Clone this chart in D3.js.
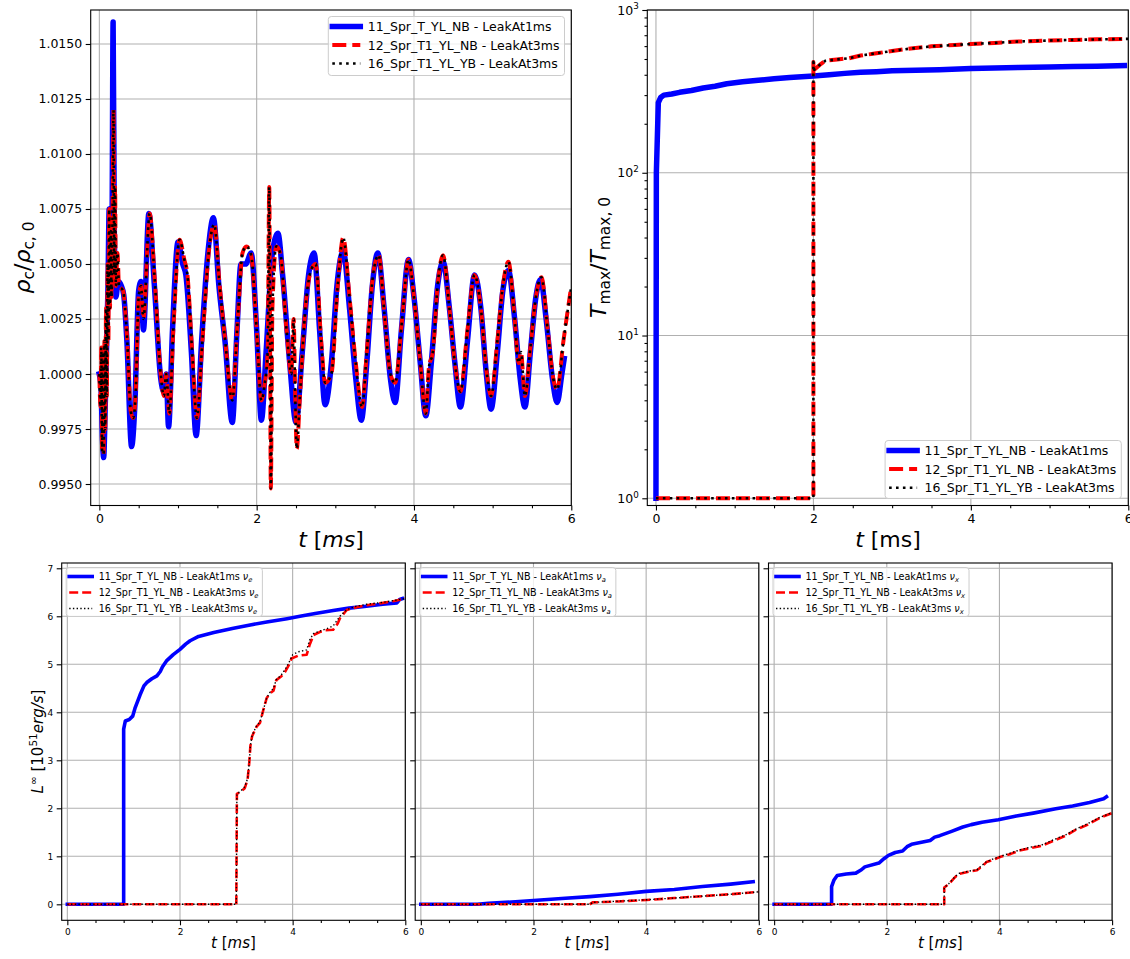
<!DOCTYPE html>
<html>
<head>
<meta charset="utf-8">
<script src="https://cdn.jsdelivr.net/npm/d3@7"></script>
<style>
body { margin: 0; background: #fff; }
svg { font-family: "DejaVu Sans", sans-serif; }
</style>
</head>
<body>
<svg id="fig" width="1130" height="959"></svg>
<script>
// ---------------- data (t in ms) ----------------
var runNames = ['11_Spr_T_YL_NB - LeakAt1ms', '12_Spr_T1_YL_NB - LeakAt3ms', '16_Spr_T1_YL_YB - LeakAt3ms'];
var flavours = ['e', 'a', 'x'];

var timeTicks = [0, 2, 4, 6];
var timeMinor = [0.5, 1, 1.5, 2.5, 3, 3.5, 4.5, 5, 5.5];
var rhoTicks = [0.9950, 0.9975, 1.0000, 1.0025, 1.0050, 1.0075, 1.0100, 1.0125, 1.0150];
var tmaxTicks = [1, 10, 100, 1000];
var tmaxMinor = [2, 3, 4, 5, 6, 7, 8, 9, 20, 30, 40, 50, 60, 70, 80, 90, 200, 300, 400, 500, 600, 700, 800, 900];
var lumTicks = [0, 1, 2, 3, 4, 5, 6, 7];

// central density rho_c / rho_c,0
var rhoLeak1 = [[0,1.0000],[0.02,0.9995],[0.04,0.9970],[0.055,0.9962],[0.07,0.9978],[0.09,1.0010],[0.11,1.0040],[0.125,1.0075],[0.14,1.0045],[0.16,1.0060],[0.175,1.0160],[0.19,1.0065],[0.21,1.0035],[0.24,1.0042],[0.28,1.0040],[0.31,1.0036],[0.35,1.0015],[0.41,0.9967],[0.45,0.9985],[0.50,1.0038],[0.53,1.0042],[0.56,1.0020],[0.63,1.0073],[0.70,1.0040],[0.78,0.9998],[0.82,0.9992],[0.85,1.0000],[0.88,0.9976],[0.93,1.0020],[1.00,1.0060],[1.06,1.0050],[1.10,1.0045],[1.17,1.0010],[1.23,0.9972],[1.30,1.0015],[1.38,1.0055],[1.45,1.0071],[1.52,1.0040],[1.60,1.0014],[1.69,0.9978],[1.75,1.0020],[1.80,1.0050],[1.86,1.0050],[1.93,1.0055],[2.00,1.0020],[2.06,0.9979],[2.12,1.0010],[2.20,1.0055],[2.27,1.0064],[2.33,1.0045],[2.42,1.0005],[2.50,0.9978],[2.58,1.0010],[2.66,1.0045],[2.73,1.0055],[2.80,1.0020],[2.87,0.9986],[2.95,1.0005],[3.02,1.0040],[3.10,1.0056],[3.18,1.0030],[3.26,0.9998],[3.33,0.9979],[3.40,1.0005],[3.47,1.0040],[3.54,1.0055],[3.62,1.0030],[3.70,0.9998],[3.76,0.9987],[3.84,1.0020],[3.93,1.0052],[4.00,1.0035],[4.08,1.0005],[4.15,0.9981],[4.22,1.0005],[4.30,1.0040],[4.37,1.0051],[4.45,1.0030],[4.52,1.0005],[4.59,0.9985],[4.68,1.0015],[4.77,1.0045],[4.85,1.0030],[4.92,1.0000],[4.98,0.9984],[5.06,1.0010],[5.13,1.0038],[5.20,1.0047],[5.28,1.0025],[5.35,0.9998],[5.41,0.9985],[5.48,1.0010],[5.55,1.0035],[5.61,1.0043],[5.68,1.0025],[5.76,0.9998],[5.82,0.9987],[5.88,1.0000],[5.91,1.0007]];
var rhoLeak3NB = [[0,1.0000],[0.015,0.9985],[0.025,1.0012],[0.035,0.9965],[0.045,1.0010],[0.055,0.9963],[0.065,1.0015],[0.075,0.9975],[0.085,1.0030],[0.095,0.9990],[0.105,1.0050],[0.115,1.0015],[0.125,1.0075],[0.135,1.0030],[0.145,1.0065],[0.155,1.0035],[0.17,1.0080],[0.18,1.0120],[0.19,1.0045],[0.20,1.0085],[0.21,1.0040],[0.23,1.0055],[0.25,1.0040],[0.30,1.0038],[0.35,1.0018],[0.40,0.9983],[0.43,0.9980],[0.46,0.9990],[0.50,1.0035],[0.53,1.0040],[0.56,1.0025],[0.64,1.0073],[0.70,1.0045],[0.78,1.0000],[0.82,0.9990],[0.85,1.0000],[0.89,0.9982],[0.94,1.0020],[1.02,1.0061],[1.08,1.0052],[1.12,1.0045],[1.18,1.0010],[1.24,0.9980],[1.31,1.0015],[1.39,1.0055],[1.46,1.0068],[1.53,1.0040],[1.60,1.0015],[1.69,0.9988],[1.76,1.0025],[1.82,1.0055],[1.87,1.0058],[1.93,1.0054],[2.00,1.0020],[2.06,0.9988],[2.10,0.9995],[2.14,1.0010],[2.16,1.0085],[2.17,1.0020],[2.18,0.9948],[2.20,1.0030],[2.25,1.0058],[2.30,1.0055],[2.38,1.0020],[2.44,1.0000],[2.47,1.0025],[2.49,0.9990],[2.51,0.9966],[2.55,0.9990],[2.62,1.0030],[2.70,1.0048],[2.75,1.0050],[2.82,1.0015],[2.87,0.9996],[2.95,1.0000],[3.03,1.0040],[3.10,1.0062],[3.18,1.0035],[3.26,1.0005],[3.34,0.9985],[3.40,1.0010],[3.48,1.0045],[3.55,1.0054],[3.63,1.0025],[3.70,1.0000],[3.76,0.9996],[3.85,1.0025],[3.93,1.0052],[4.00,1.0035],[4.08,1.0005],[4.15,0.9982],[4.19,1.0003],[4.24,1.0010],[4.30,1.0040],[4.37,1.0054],[4.45,1.0030],[4.52,1.0005],[4.59,0.9992],[4.68,1.0020],[4.77,1.0045],[4.85,1.0030],[4.92,1.0002],[4.98,0.9990],[5.06,1.0015],[5.13,1.0040],[5.20,1.0051],[5.28,1.0025],[5.33,1.0005],[5.36,1.0010],[5.41,0.9990],[5.48,1.0012],[5.55,1.0035],[5.62,1.0044],[5.70,1.0020],[5.77,0.9998],[5.82,0.9993],[5.90,1.0015],[6.00,1.0040]];
var rhoLeak3YB = rhoLeak3NB; // the dotted run lies on top of the dashed one

// maximum temperature T_max / T_max,0
var tmaxLeak1 = [[0,1],[0.005,100],[0.03,270],[0.06,290],[0.1,300],[0.2,305],[0.3,312],[0.45,320],[0.6,332],[0.75,340],[0.9,352],[1.1,362],[1.3,370],[1.5,378],[1.7,385],[2.0,393],[2.2,400],[2.4,408],[2.6,415],[2.8,418],[3.0,423],[3.3,427],[3.6,430],[4.0,437],[4.3,440],[4.6,443],[5.0,447],[5.3,450],[5.6,452],[5.95,456]];
var tmaxLeak3NB = [[0,1],[2.0,1],[2.0,480],[2.01,430],[2.08,460],[2.15,487],[2.3,497],[2.45,505],[2.6,525],[2.8,542],[3.0,560],[3.2,577],[3.5,598],[3.8,610],[4.0,618],[4.3,628],[4.6,640],[5.0,650],[5.3,655],[5.6,660],[6.0,665]];
var tmaxLeak3YB = tmaxLeak3NB;

// neutrino luminosities L [1e51 erg/s]
var lumNueLeak1 = [[0,0],[1.0,0],[1.0,3.65],[1.03,3.82],[1.1,3.85],[1.16,3.92],[1.2,4.08],[1.29,4.36],[1.36,4.55],[1.41,4.62],[1.5,4.7],[1.59,4.76],[1.65,4.85],[1.69,4.95],[1.76,5.07],[1.88,5.2],[2.0,5.31],[2.1,5.42],[2.18,5.49],[2.33,5.58],[2.6,5.66],[2.95,5.75],[3.2,5.81],[3.54,5.88],[3.9,5.95],[4.13,6.0],[4.4,6.06],[4.72,6.12],[5.0,6.17],[5.31,6.21],[5.6,6.25],[5.85,6.28],[5.9,6.35],[5.95,6.37]];
var lumNueLeak3NB = [[0,0],[3.0,0],[3.01,2.3],[3.08,2.35],[3.15,2.42],[3.2,2.6],[3.23,2.95],[3.25,3.3],[3.28,3.5],[3.36,3.7],[3.42,3.78],[3.48,4.05],[3.54,4.3],[3.6,4.4],[3.66,4.45],[3.71,4.67],[3.8,4.75],[3.87,4.85],[3.94,5.0],[3.98,5.12],[4.1,5.18],[4.25,5.2],[4.3,5.4],[4.37,5.61],[4.5,5.68],[4.58,5.71],[4.72,5.72],[4.8,5.85],[4.84,5.96],[4.96,6.13],[5.1,6.18],[5.31,6.23],[5.6,6.28],[5.8,6.32],[6.0,6.37]];
var lumNueLeak3YB = [[0,0],[3.0,0],[3.01,2.3],[3.08,2.36],[3.15,2.45],[3.2,2.62],[3.23,2.95],[3.25,3.3],[3.28,3.52],[3.36,3.72],[3.42,3.8],[3.48,4.05],[3.54,4.3],[3.6,4.42],[3.66,4.5],[3.71,4.68],[3.8,4.78],[3.87,4.9],[3.94,5.05],[4.0,5.2],[4.1,5.26],[4.25,5.3],[4.3,5.5],[4.37,5.64],[4.5,5.7],[4.6,5.74],[4.72,5.8],[4.84,6.0],[4.96,6.14],[5.1,6.2],[5.31,6.25],[5.6,6.29],[5.8,6.33],[6.0,6.37]];

var lumNuaLeak1 = [[0,0],[1.0,0],[1.2,0.02],[1.5,0.04],[2.0,0.08],[2.5,0.12],[3.0,0.16],[3.5,0.21],[4.0,0.27],[4.5,0.31],[5.0,0.37],[5.5,0.42],[5.9,0.47]];
var lumNuaLeak3NB = [[0,0],[3.0,0],[3.05,0.04],[3.5,0.06],[4.0,0.09],[4.5,0.13],[5.0,0.17],[5.5,0.21],[6.0,0.26]];
var lumNuaLeak3YB = [[0,0],[3.0,0],[3.05,0.04],[3.5,0.065],[4.0,0.095],[4.5,0.13],[5.0,0.17],[5.5,0.21],[6.0,0.26]];

var lumNuxLeak1 = [[0,0],[1.02,0],[1.02,0.37],[1.06,0.5],[1.12,0.6],[1.28,0.63],[1.45,0.65],[1.55,0.72],[1.61,0.78],[1.86,0.86],[1.95,0.95],[2.03,1.02],[2.15,1.08],[2.28,1.11],[2.36,1.2],[2.44,1.25],[2.77,1.33],[2.85,1.4],[2.94,1.43],[3.15,1.52],[3.35,1.61],[3.5,1.66],[3.69,1.71],[3.98,1.76],[4.3,1.84],[4.6,1.9],[5.0,1.99],[5.3,2.05],[5.6,2.12],[5.85,2.2],[5.9,2.24]];
var lumNuxLeak3NB = [[0,0],[3.02,0],[3.02,0.35],[3.1,0.42],[3.2,0.55],[3.27,0.63],[3.45,0.68],[3.6,0.71],[3.7,0.8],[3.77,0.88],[3.9,0.93],[4.02,0.99],[4.2,1.05],[4.35,1.12],[4.55,1.17],[4.76,1.22],[4.95,1.32],[5.18,1.43],[5.35,1.55],[5.55,1.65],[5.78,1.8],[6.0,1.9]];
var lumNuxLeak3YB = [[0,0],[3.02,0],[3.02,0.35],[3.1,0.43],[3.2,0.56],[3.27,0.64],[3.45,0.69],[3.6,0.72],[3.7,0.82],[3.77,0.89],[3.9,0.95],[4.02,1.0],[4.2,1.07],[4.35,1.13],[4.55,1.19],[4.76,1.24],[4.95,1.34],[5.18,1.45],[5.35,1.56],[5.55,1.67],[5.78,1.81],[6.0,1.91]];

// ---------------- drawing ----------------
var svg = d3.select('#fig');
var FONT = 'DejaVu Sans';

var bigStyles = [
    {color: '#0000ff', width: 5.5, dash: null},
    {color: '#ff0000', width: 4, dash: '14,6'},
    {color: '#000000', width: 2.6, dash: '2.6,4.3'}
];
var smallStyles = [
    {color: '#0000ff', width: 3.6, dash: null},
    {color: '#ff0000', width: 2.6, dash: '9,4'},
    {color: '#000000', width: 1.4, dash: '1.4,2.3'}
];

function applyStyle(sel, st) {
    sel.attr('fill', 'none')
        .attr('stroke', st.color)
        .attr('stroke-width', st.width)
        .attr('stroke-dasharray', st.dash)
        .attr('stroke-linecap', st.dash ? 'butt' : 'square')
        .attr('stroke-linejoin', 'round');
}

// parts: [text, flags] ; flags: i = italic, _ = subscript, ^ = superscript
function addMath(text, parts, size) {
    var shift = 0;
    parts.forEach(function (p) {
        var f = p[1] || '';
        var target = f.indexOf('_') >= 0 ? 0.2 * size : (f.indexOf('^') >= 0 ? -0.42 * size : 0);
        var ts = text.append('tspan').text(p[0])
            .attr('font-size', target !== 0 ? size * 0.7 : size)
            .attr('font-style', f.indexOf('i') >= 0 ? 'italic' : 'normal');
        if (target !== shift) {
            ts.attr('dy', target - shift);
            shift = target;
        }
    });
    return text;
}

function drawPanel(o) {
    var g = svg.append('g');
    var x = d3.scaleLinear().domain(o.xDomain).range([o.left, o.right]);
    var y = (o.yLog ? d3.scaleLog() : d3.scaleLinear()).domain(o.yDomain).range([o.bottom, o.top]);

    // grid at the major ticks
    var grid = g.append('g').attr('stroke', '#b0b0b0').attr('stroke-width', 1.1);
    grid.selectAll('.gx').data(o.xTicks).enter().append('line')
        .attr('x1', d => x(d)).attr('x2', d => x(d))
        .attr('y1', o.top).attr('y2', o.bottom);
    grid.selectAll('.gy').data(o.yTicks).enter().append('line')
        .attr('y1', d => y(d)).attr('y2', d => y(d))
        .attr('x1', o.left).attr('x2', o.right);

    var clipId = 'clip-' + o.id;
    g.append('clipPath').attr('id', clipId).append('rect')
        .attr('x', o.left).attr('y', o.top)
        .attr('width', o.right - o.left).attr('height', o.bottom - o.top);

    var line = d3.line().x(d => x(d[0])).y(d => y(d[1])).curve(o.curve);
    o.series.forEach(function (values, i) {
        g.append('path')
            .attr('clip-path', 'url(#' + clipId + ')')
            .attr('d', line(values))
            .call(applyStyle, o.styles[i]);
    });

    g.append('rect')
        .attr('x', o.left).attr('y', o.top)
        .attr('width', o.right - o.left).attr('height', o.bottom - o.top)
        .attr('fill', 'none').attr('stroke', '#000').attr('stroke-width', 1.1);

    // x axis
    var xa = g.append('g').attr('transform', 'translate(0,' + o.bottom + ')')
        .call(d3.axisBottom(x).tickValues(o.xTicks).tickFormat(d3.format('d'))
            .tickSizeInner(5).tickSizeOuter(0).tickPadding(3.5));
    var xm = g.append('g').attr('transform', 'translate(0,' + o.bottom + ')')
        .call(d3.axisBottom(x).tickValues(timeMinor).tickFormat(() => '')
            .tickSizeInner(2.8).tickSizeOuter(0));

    // y axis (log labels are written below as 10 + superscript)
    var yFmt = (o.yLabels && !o.yLog) ? (o.yFormat || d3.format('d')) : () => '';
    var ya = g.append('g').attr('transform', 'translate(' + o.left + ',0)')
        .call(d3.axisLeft(y).tickValues(o.yTicks).tickFormat(yFmt)
            .tickSizeInner(5).tickSizeOuter(0).tickPadding(3.5));
    var axes = [xa, xm, ya];
    if (o.yMinor) {
        axes.push(g.append('g').attr('transform', 'translate(' + o.left + ',0)')
            .call(d3.axisLeft(y).tickValues(o.yMinor).tickFormat(() => '')
                .tickSizeInner(2.8).tickSizeOuter(0)));
    }
    axes.forEach(function (a) {
        a.select('.domain').remove();
        a.attr('font-size', o.tickFont).attr('font-family', FONT);
        a.selectAll('.tick line').attr('stroke-width', 1.1);
        a.selectAll('.tick text').attr('fill', '#000');
    });
    if (o.yLog) {
        ya.selectAll('.tick text').each(function (d) {
            var t = d3.select(this);
            t.append('tspan').text('10');
            t.append('tspan').attr('dy', -0.42 * o.tickFont).attr('font-size', o.tickFont * 0.7)
                .text(Math.round(Math.log10(d)));
        });
    }
    return {g: g, x: x, y: y};
}

function drawLegend(p, o) {
    var lg = p.g.append('g');
    var box = lg.append('rect');
    var maxLen = 0;
    o.labels.forEach(function (parts, i) {
        var ry = o.row0 + i * o.pitch;
        lg.append('line')
            .attr('x1', o.handleX).attr('x2', o.handleX + o.handleLen)
            .attr('y1', ry).attr('y2', ry)
            .call(applyStyle, o.styles[i]);
        var t = lg.append('text').attr('x', o.textX).attr('y', ry + 0.36 * o.fontSize)
            .attr('font-family', FONT).attr('fill', '#000');
        addMath(t, parts, o.fontSize);
        maxLen = Math.max(maxLen, t.node().getComputedTextLength());
    });
    var w = o.textX + maxLen + o.padRight;
    box.attr('x', 0).attr('y', 0).attr('width', w).attr('height', o.height)
        .attr('rx', 3).attr('fill', '#fff').attr('fill-opacity', 0.8)
        .attr('stroke', '#cccccc').attr('stroke-width', 1);
    var left = o.alignRight ? o.anchorX - w : o.anchorX;
    lg.attr('transform', 'translate(' + left + ',' + o.top + ')');
}

function axisLabel(parts, size, xPos, yPos, rotate) {
    var t = svg.append('text')
        .attr('text-anchor', 'middle').attr('font-family', FONT).attr('fill', '#000')
        .attr('transform', 'translate(' + xPos + ',' + yPos + ')' + (rotate ? ' rotate(-90)' : ''));
    addMath(t, parts, size);
}

var bigLegend = runNames.map(n => [[n, '']]);

// ---- top left: central density ----
var pRho = drawPanel({
    id: 'rho', left: 90.7, right: 571.3, top: 10, bottom: 505.5,
    xDomain: [-0.11, 6.0], yDomain: [0.994023, 1.016545],
    xTicks: timeTicks, yTicks: rhoTicks, yLabels: true, yFormat: d3.format('.4f'),
    tickFont: 12.5, curve: d3.curveMonotoneX,
    series: [rhoLeak1, rhoLeak3NB, rhoLeak3YB], styles: bigStyles
});
drawLegend(pRho, {
    labels: bigLegend, styles: bigStyles, fontSize: 12.5,
    anchorX: 564.5, alignRight: true, top: 16.5, height: 59,
    row0: 10, pitch: 18.5, handleX: 4, handleLen: 28, textX: 39.5, padRight: 5
});
axisLabel([['ρ', 'i'], ['c', '_'], ['/', ''], ['ρ', 'i'], ['c, 0', '_']], 22, 30, 257.5, true);
axisLabel([['t', 'i'], [' [', ''], ['ms', 'i'], [']', '']], 22, 331, 547, false);

// ---- top right: maximum temperature ----
var pT = drawPanel({
    id: 'tmax', left: 647.3, right: 1128.3, top: 10, bottom: 505.5,
    xDomain: [-0.11, 6.0], yDomain: [0.903, 1000], yLog: true,
    xTicks: timeTicks, yTicks: tmaxTicks, yMinor: tmaxMinor, yLabels: true,
    tickFont: 12.5, curve: d3.curveLinear,
    series: [tmaxLeak1, tmaxLeak3NB, tmaxLeak3YB], styles: bigStyles
});
drawLegend(pT, {
    labels: bigLegend, styles: bigStyles, fontSize: 12.5,
    anchorX: 1121.3, alignRight: true, top: 440.5, height: 58,
    row0: 10, pitch: 18.6, handleX: 4, handleLen: 28, textX: 39.5, padRight: 5
});
axisLabel([['T', 'i'], ['max', '_'], ['/', ''], ['T', 'i'], ['max, 0', '_']], 22, 606, 257.5, true);
axisLabel([['t', 'i'], [' [ms]', '']], 22, 888, 547, false);

// ---- bottom: luminosities per flavour ----
var lumSeries = [
    [lumNueLeak1, lumNueLeak3NB, lumNueLeak3YB],
    [lumNuaLeak1, lumNuaLeak3NB, lumNuaLeak3YB],
    [lumNuxLeak1, lumNuxLeak3NB, lumNuxLeak3YB]
];
var lumLefts = [61.7, 415.2, 768.5];
var lumWidth = 343.6;

flavours.forEach(function (fl, k) {
    var left = lumLefts[k];
    var p = drawPanel({
        id: 'lum' + fl, left: left, right: left + lumWidth, top: 563, bottom: 920.3,
        xDomain: [-0.1, 6.0], yDomain: [-0.333, 7.11],
        xTicks: timeTicks, yTicks: lumTicks, yLabels: k === 0,
        tickFont: 9, curve: d3.curveLinear,
        series: lumSeries[k], styles: smallStyles
    });
    drawLegend(p, {
        labels: runNames.map(n => [[n + ' ', ''], ['ν', 'i'], [fl, '_i']]),
        styles: smallStyles, fontSize: 9.6,
        anchorX: left + 4.5, alignRight: false, top: 567.5, height: 49,
        row0: 9, pitch: 16, handleX: 3, handleLen: 23, textX: 32.5, padRight: 4
    });
    axisLabel([['t', 'i'], [' [', ''], ['ms', 'i'], [']', '']], 15, left + lumWidth / 2, 948, false);
});
axisLabel([['L', 'i'], ['∞', '^'], [' [10', ''], ['51', '^'], ['erg/s', 'i'], [']', '']], 15, 43, 741.5, true);
</script>
</body>
</html>
